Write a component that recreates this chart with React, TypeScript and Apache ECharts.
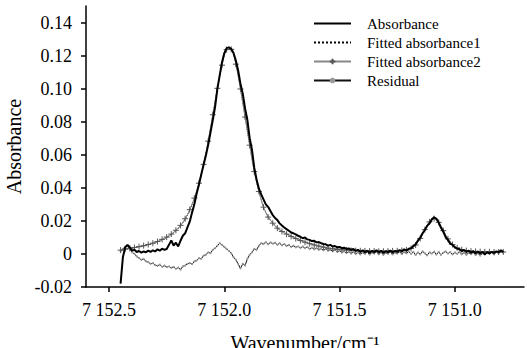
import { useEffect, useRef } from "react";
import * as echarts from "echarts";

// Wavenumber grid (cm^-1): measured points every 0.01, fitted curves every 0.02
const startWn = 7152.45;
const dataStep = 0.01;
const fitStep = 0.02;

const absorbance = [
  -0.018, -0.002, 0.004, 0.0055, 0.004, 0.002, 0.0025, 0.0012, 0.0018, 0.0008,
  0.0015, 0.001, 0.002, 0.0012, 0.0022, 0.0015, 0.0028, 0.002, 0.0032, 0.0025,
  0.003, 0.0055, 0.0082, 0.005, 0.0068, 0.0045, 0.008, 0.011, 0.0125, 0.016,
  0.0195, 0.025, 0.03, 0.0365, 0.042, 0.048, 0.054, 0.0595, 0.066, 0.0735,
  0.081, 0.089, 0.1, 0.108, 0.116, 0.1215, 0.1245, 0.125, 0.124, 0.1215,
  0.117, 0.111, 0.103, 0.097, 0.088, 0.081, 0.07, 0.063, 0.052, 0.045,
  0.0395, 0.036, 0.033, 0.03, 0.0285, 0.026, 0.0235, 0.0218, 0.0205, 0.0185,
  0.0172, 0.016, 0.015, 0.014, 0.013, 0.0125, 0.0118, 0.011, 0.0104, 0.0095,
  0.01, 0.0088, 0.0085, 0.0078, 0.008, 0.007, 0.0072, 0.0065, 0.006, 0.0058,
  0.005, 0.0055, 0.0045, 0.0048, 0.004, 0.0042, 0.0035, 0.0038, 0.003, 0.0033,
  0.0025, 0.003, 0.0018, 0.0025, 0.0012, 0.0022, 0.001, 0.002, 0.0008, 0.0018,
  0.0012, 0.0022, 0.001, 0.0019, 0.0007, 0.0016, 0.0011, 0.0021, 0.0009, 0.0018,
  0.0013, 0.0024, 0.0015, 0.0028, 0.002, 0.0032, 0.0035, 0.0048, 0.0058, 0.0082,
  0.0098, 0.0125, 0.0145, 0.017, 0.0185, 0.0208, 0.0222, 0.0212, 0.019, 0.0158,
  0.0135, 0.0102, 0.0085, 0.0062, 0.0055, 0.004, 0.0032, 0.0028, 0.0018, 0.0024,
  0.0012, 0.002, 0.0008, 0.0016, 0.0005, 0.0014, 0.0003, 0.0012, -0.0002, 0.001,
  0.0004, 0.0013, 0.0006, 0.0016, 0.001, 0.0022, 0.0012,
];

const residual = [
  0.0015, 0.003, 0.0045, 0.005, 0.003, 0.001, 0.0, -0.0015, -0.0025, -0.0036,
  -0.003, -0.0045, -0.005, -0.006, -0.0055, -0.0067, -0.0072, -0.0065, -0.0078, -0.007,
  -0.008, -0.0075, -0.0085, -0.0078, -0.009, -0.0082, -0.0095, -0.0075, -0.007, -0.006,
  -0.0055, -0.0062, -0.0045, -0.004, -0.0025, -0.003, -0.001, -0.0005, 0.001, 0.0005,
  0.0025, 0.0035, 0.005, 0.0065, 0.0055, 0.0042, 0.003, 0.0018, 0.0005, -0.002,
  -0.0035, -0.006, -0.0088, -0.006, -0.007, -0.003, -0.0005, 0.001, 0.003, 0.0025,
  0.005, 0.0065, 0.006, 0.0072, 0.0058, 0.007, 0.0062, 0.0068, 0.0055, 0.0065,
  0.0052, 0.006, 0.0048, 0.0055, 0.0042, 0.005, 0.004, 0.0046, 0.0036, 0.0045,
  0.0035, 0.0042, 0.003, 0.0038, 0.0028, 0.0035, 0.0025, 0.0032, 0.0022, 0.003,
  0.002, 0.0026, 0.0016, 0.0024, 0.0012, 0.002, 0.0008, 0.0016, 0.0005, 0.0014,
  0.0002, 0.0012, -0.0001, 0.001, -0.0003, 0.0009, 0.0, 0.0012, -0.0004, 0.0008,
  0.0002, 0.0013, -0.0002, 0.001, -0.0005, 0.0007, 0.0001, 0.0012, -0.0003, 0.0009,
  0.0002, 0.0014, -0.0001, 0.0011, 0.0003, 0.0015, 0.0, 0.0012, -0.0006, 0.001,
  -0.0002, 0.0016, 0.0003, -0.0008, 0.001, 0.0002, 0.0014, -0.0004, 0.0012, -0.0006,
  0.0008, 0.0015, 0.0002, 0.0011, -0.0003, 0.0009, 0.0001, 0.0012, -0.0002, 0.0008,
  -0.0005, 0.0006, -0.0001, 0.001, -0.0006, 0.0004, -0.001, 0.0005, -0.0004, 0.0008,
  0.0, 0.001, -0.0003, 0.0012, 0.0004, 0.0016, 0.0008,
];

const fitted1 = [
  0.0022, 0.0028, 0.0033, 0.0038, 0.0043, 0.0049, 0.0056, 0.0064, 0.0074, 0.0086,
  0.01, 0.0118, 0.014, 0.017, 0.021, 0.0265, 0.0335, 0.0425, 0.054, 0.068,
  0.084, 0.1, 0.114, 0.1235, 0.124, 0.115, 0.1, 0.083, 0.066, 0.05,
  0.038, 0.0285, 0.0225, 0.0188, 0.0158, 0.0138, 0.0122, 0.0108, 0.0095, 0.0083,
  0.0073, 0.0064, 0.0056, 0.0048, 0.0042, 0.0036, 0.0032, 0.0029, 0.0026, 0.0024,
  0.0022, 0.0021, 0.002, 0.0019, 0.0018, 0.0018, 0.0017, 0.0017, 0.0018, 0.0019,
  0.002, 0.0022, 0.0026, 0.0034, 0.0055, 0.0095, 0.0148, 0.0195, 0.0215, 0.0192,
  0.0142, 0.0092, 0.0058, 0.0038, 0.0027, 0.0021, 0.0018, 0.0016, 0.0015, 0.0014,
  0.0014, 0.0013, 0.0013, 0.0013,
];

const fitted2 = [
  0.0023, 0.0029, 0.0034, 0.0039, 0.0044, 0.005, 0.0057, 0.0065, 0.0075, 0.0088,
  0.0102, 0.012, 0.0143, 0.0173, 0.0213, 0.0268, 0.0338, 0.0428, 0.0542, 0.0682,
  0.0842, 0.1002, 0.1142, 0.1236, 0.1238, 0.1148, 0.0998, 0.0828, 0.0658, 0.0498,
  0.0378, 0.0283, 0.0223, 0.0186, 0.0156, 0.0136, 0.012, 0.0106, 0.0093, 0.0081,
  0.0071, 0.0062, 0.0054, 0.0047, 0.0041, 0.0035, 0.0031, 0.0028, 0.0025, 0.0023,
  0.0021, 0.002, 0.0019, 0.0018, 0.0017, 0.0017, 0.0016, 0.0016, 0.0017, 0.0018,
  0.0019, 0.0021, 0.0025, 0.0033, 0.0054, 0.0094, 0.0147, 0.0194, 0.0214, 0.0191,
  0.0141, 0.0091, 0.0057, 0.0037, 0.0026, 0.002, 0.0017, 0.0015, 0.0014, 0.0013,
  0.0013, 0.0012, 0.0012, 0.0012,
];

const xTickValues = [7152.5, 7152.0, 7151.5, 7151.0];
const xTickLabels = ["7 152.5", "7 152.0", "7 151.5", "7 151.0"];
const yTickValues = [-0.02, 0, 0.02, 0.04, 0.06, 0.08, 0.1, 0.12, 0.14];
const yTickLabels = ["-0.02", "0", "0.02", "0.04", "0.06", "0.08", "0.10", "0.12", "0.14"];

const toPairs = (vals: number[], step: number) =>
  vals.map((v, i) => [Number((startWn - i * step).toFixed(2)), v]);

const labelFor = (vals: number[], labels: string[]) => (v: number) => {
  const k = vals.findIndex((t) => Math.abs(t - v) < 1e-6);
  return k >= 0 ? labels[k] : "";
};

const FONT = "Liberation Serif";

export default function App() {
  const ref = useRef<HTMLDivElement>(null);

  useEffect(() => {
    if (!ref.current) return;
    const chart = echarts.init(ref.current, undefined, { renderer: "svg" });
    chart.setOption({
      animation: false,
      grid: { left: 86, right: 3, top: 6, bottom: 61, containLabel: false, outerBoundsMode: "none" },
      legend: {
        orient: "vertical",
        left: 313,
        top: 16,
        padding: 0,
        itemWidth: 37,
        itemHeight: 7,
        itemGap: 4,
        textStyle: { fontFamily: FONT, fontSize: 15, color: "#000", padding: [0, 0, 0, 11] },
        data: [
          { name: "Absorbance", itemStyle: { color: "rgba(0,0,0,0)", borderWidth: 0 } },
          { name: "Fitted absorbance1", itemStyle: { color: "rgba(0,0,0,0)", borderWidth: 0 } },
          { name: "Fitted absorbance2" },
          { name: "Residual" },
        ],
      },
      xAxis: {
        type: "value",
        inverse: true,
        min: 7150.7,
        max: 7152.6,
        name: "Wavenumber/cm⁻¹",
        nameLocation: "middle",
        nameGap: 46,
        nameTextStyle: { fontFamily: FONT, fontSize: 20, color: "#000" },
        axisLine: { onZero: false, lineStyle: { color: "#000", width: 1.5 } },
        axisTick: { show: true, inside: false, length: 5, customValues: xTickValues, lineStyle: { color: "#000", width: 1.5 } },
        axisLabel: {
          customValues: xTickValues,
          formatter: labelFor(xTickValues, xTickLabels),
          fontFamily: FONT,
          fontSize: 18,
          color: "#000",
          margin: 14,
        },
        splitLine: { show: false },
      },
      yAxis: {
        type: "value",
        min: -0.02,
        max: 0.15,
        name: "Absorbance",
        nameLocation: "middle",
        nameGap: 54,
        nameTextStyle: { fontFamily: FONT, fontSize: 20, color: "#000" },
        axisLine: { show: true, lineStyle: { color: "#000", width: 1.5 } },
        axisTick: { show: true, inside: false, length: 5, customValues: yTickValues, lineStyle: { color: "#000", width: 1.5 } },
        axisLabel: {
          customValues: yTickValues,
          formatter: labelFor(yTickValues, yTickLabels),
          fontFamily: FONT,
          fontSize: 18,
          color: "#000",
          margin: 14,
        },
        splitLine: { show: false },
      },
      series: [
        {
          name: "Absorbance",
          type: "line",
          data: toPairs(absorbance, dataStep),
          symbol: "none",
          z: 5,
          lineStyle: { color: "#000", width: 2 },
          itemStyle: { color: "#000" },
        },
        {
          name: "Fitted absorbance1",
          type: "line",
          data: toPairs(fitted1, fitStep),
          symbol: "none",
          smooth: 0.3,
          z: 3,
          lineStyle: { color: "#000", width: 1, type: "dotted" },
          itemStyle: { color: "#000" },
        },
        {
          name: "Fitted absorbance2",
          type: "line",
          data: toPairs(fitted2, fitStep),
          symbol: "path://M0,5L10,5M5,0L5,10",
          symbolSize: 6,
          showAllSymbol: true,
          smooth: 0.3,
          z: 4,
          lineStyle: { color: "#888", width: 1 },
          itemStyle: { color: "none", borderColor: "#555", borderWidth: 1 },
        },
        {
          name: "Residual",
          type: "line",
          data: toPairs(residual, dataStep),
          symbol: "circle",
          symbolSize: 2,
          showAllSymbol: true,
          z: 2,
          lineStyle: { color: "#111", width: 1 },
          itemStyle: { color: "#999" },
        },
      ],
    });
    return () => chart.dispose();
  }, []);

  return (
    <div
      ref={ref}
      style={{ position: "fixed", left: 0, top: 0, width: 527, height: 348, background: "#fff" }}
    />
  );
}
